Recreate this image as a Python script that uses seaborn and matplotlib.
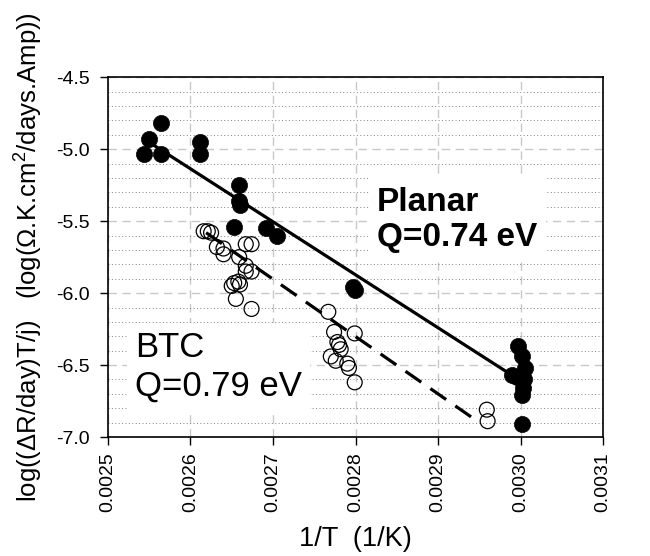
import numpy as np
import pandas as pd
import matplotlib
matplotlib.use("Agg")
import matplotlib.pyplot as plt
from matplotlib.ticker import MultipleLocator, FormatStrFormatter
import seaborn as sns

# ---- data ----
planar_x = [0.002544, 0.002550, 0.002564, 0.002564, 0.002611, 0.002611, 0.002659,
            0.002659, 0.002660, 0.002653, 0.002691, 0.002705, 0.002797, 0.002799,
            0.002997, 0.003002, 0.003005, 0.002990, 0.002996, 0.003004, 0.003003,
            0.003002, 0.003002]
planar_y = [-5.03, -4.93, -4.82, -5.03, -4.95, -5.03, -5.25,
            -5.36, -5.39, -5.54, -5.55, -5.60, -5.96, -5.98,
            -6.37, -6.44, -6.52, -6.57, -6.58, -6.60, -6.66,
            -6.71, -6.91]

btc_x = [0.002616, 0.002621, 0.002625, 0.002632, 0.002640, 0.002640, 0.002659,
         0.002667, 0.002674, 0.002667, 0.002667, 0.002674, 0.002653, 0.002658,
         0.002660, 0.002650, 0.002655, 0.002674, 0.002767, 0.002774, 0.002799,
         0.002778, 0.002780, 0.002782, 0.002770, 0.002776, 0.002790, 0.002792,
         0.002799, 0.002959, 0.002960]
btc_y = [-5.57, -5.57, -5.58, -5.68, -5.69, -5.73, -5.75,
         -5.66, -5.66, -5.81, -5.85, -5.85, -5.93, -5.92,
         -5.94, -5.95, -6.04, -6.11, -6.13, -6.27, -6.28,
         -6.34, -6.36, -6.39, -6.44, -6.47, -6.49, -6.52,
         -6.62, -6.81, -6.89]

planar_fit_x = [0.002555, 0.002992]
planar_fit_y = [-4.97, -6.58]
btc_fit_x = [0.002619, 0.002945]
btc_fit_y = [-5.58, -6.88]

x_ticks = [0.0025, 0.0026, 0.0027, 0.0028, 0.0029, 0.0030, 0.0031]
y_ticks = [-7.0, -6.5, -6.0, -5.5, -5.0, -4.5]

planar_label = "Planar\nQ=0.74 eV"
btc_label = "BTC\nQ=0.79 eV"
x_label = "1/T  (1/K)"
y_label = "log((ΔR/day)T/j)   (log(Ω.K.cm$^2$/days.Amp))"

# ---- style ----
sns.set_theme(style="white")
plt.rcParams['font.family'] = ['Liberation Sans', 'DejaVu Sans']
plt.rcParams['mathtext.fontset'] = 'custom'
plt.rcParams['mathtext.rm'] = 'Liberation Sans'
plt.rcParams['mathtext.it'] = 'Liberation Sans'
plt.rcParams['axes.unicode_minus'] = False
for k in ['text.color', 'axes.labelcolor', 'xtick.color', 'ytick.color']:
    plt.rcParams[k] = 'black'

fig = plt.figure(figsize=(6.5, 5.56), dpi=100)
ax = fig.add_axes([0.166, 0.214, 0.762, 0.647])

df_p = pd.DataFrame({"x": planar_x, "y": planar_y})
df_b = pd.DataFrame({"x": btc_x, "y": btc_y})
df_pf = pd.DataFrame({"x": planar_fit_x, "y": planar_fit_y})
df_bf = pd.DataFrame({"x": btc_fit_x, "y": btc_fit_y})

# grid
ax.set_xlim(0.0025, 0.0031)
ax.set_ylim(-7.0, -4.5)
ax.xaxis.set_major_locator(MultipleLocator(0.0001))
ax.yaxis.set_major_locator(MultipleLocator(0.5))
ax.yaxis.set_minor_locator(MultipleLocator(0.1))
ax.grid(True, which='major', axis='both', color='#c8c8c8', linestyle=(0, (6, 4)), linewidth=1.0, zorder=0)
ax.grid(True, which='minor', axis='y', color='#808080', linestyle=(0, (1, 2.5)), linewidth=0.7, zorder=0)
ax.set_axisbelow(True)

sns.lineplot(data=df_pf, x="x", y="y", ax=ax, color='black', linewidth=2.3, zorder=3)
sns.lineplot(data=df_bf, x="x", y="y", ax=ax, color='black', linewidth=2.3,
             linestyle=(0, (6, 3.5)), zorder=3)
sns.scatterplot(data=df_b, x="x", y="y", ax=ax, marker='o', s=115,
                facecolor='none', edgecolor='black', linewidth=0.9, zorder=4)
sns.scatterplot(data=df_p, x="x", y="y", ax=ax, marker='o', s=135,
                color='black', edgecolor='black', linewidth=0.5, zorder=5)

ax.set_xticks(x_ticks)
ax.set_yticks(y_ticks)
ax.xaxis.set_major_formatter(FormatStrFormatter('%.4f'))
ax.yaxis.set_major_formatter(FormatStrFormatter('%.1f'))
ax.tick_params(axis='x', which='major', direction='out', length=6, width=1,
               labelsize=14, rotation=90, bottom=True, top=False, color='black', pad=5)
ax.tick_params(axis='y', which='major', direction='out', length=6, width=1,
               labelsize=14, left=True, right=False, color='black', pad=7)
ax.tick_params(axis='y', which='minor', length=0)
ax.set_xlim(0.0025, 0.0031)
ax.set_ylim(-7.0, -4.5)

for sp in ax.spines.values():
    sp.set_color('black')
    sp.set_linewidth(1.2)

ax.set_xlabel(x_label, fontsize=19.5, labelpad=10)
ax.set_ylabel(y_label, fontsize=18.5, labelpad=8)

ax.text(0.002826, -5.26, planar_label, fontsize=24, fontweight='bold', ha='left', va='top',
        linespacing=1.2, zorder=6,
        bbox=dict(facecolor='white', edgecolor='none', pad=6))
ax.text(0.002533, -6.265, btc_label, fontsize=25, ha='left', va='top',
        linespacing=1.2, zorder=6,
        bbox=dict(facecolor='white', edgecolor='none', pad=6))

fig.savefig("out.png", dpi=100)
